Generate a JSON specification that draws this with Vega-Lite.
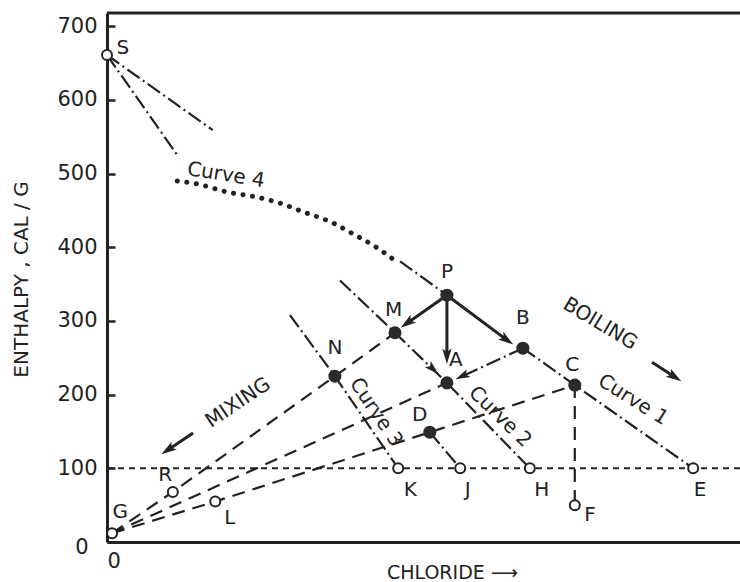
{
  "$schema": "https://vega.github.io/schema/vega-lite/v6.json",
  "autosize": {"type": "none"},
  "padding": {"left": 107, "top": 13, "right": 0, "bottom": 40},
  "width": 633,
  "height": 529,
  "background": "white",
  "config": {
    "view": {"stroke": null},
    "font": "DejaVu Sans",
    "text": {"font": "DejaVu Sans", "fontSize": 20, "color": "#222"}
  },
  "datasets": {
    "lines": [
      {"seg": "frame", "style": "frame", "ord": 0, "x": 0, "y": 718},
      {"seg": "frame", "style": "frame", "ord": 1, "x": 100, "y": 718},
      {"seg": "level", "style": "level", "ord": 0, "x": 0, "y": 100},
      {"seg": "level", "style": "level", "ord": 1, "x": 100, "y": 100},

      {"seg": "c1a", "style": "boil", "ord": 0, "x": 0, "y": 661},
      {"seg": "c1a", "style": "boil", "ord": 1, "x": 16.7, "y": 559},
      {"seg": "c1b", "style": "boil", "ord": 0, "x": 46.3, "y": 381},
      {"seg": "c1b", "style": "boil", "ord": 1, "x": 53.7, "y": 335},
      {"seg": "c1c", "style": "boil", "ord": 0, "x": 65.7, "y": 263},
      {"seg": "c1c", "style": "boil", "ord": 1, "x": 73.9, "y": 213},
      {"seg": "c1c", "style": "boil", "ord": 2, "x": 92.6, "y": 100},
      {"seg": "c2", "style": "boil", "ord": 0, "x": 36.8, "y": 355},
      {"seg": "c2", "style": "boil", "ord": 1, "x": 45.5, "y": 284},
      {"seg": "c2", "style": "boil", "ord": 2, "x": 53.7, "y": 216},
      {"seg": "c2", "style": "boil", "ord": 3, "x": 66.8, "y": 100},
      {"seg": "c3a", "style": "boil", "ord": 0, "x": 0, "y": 661},
      {"seg": "c3a", "style": "boil", "ord": 1, "x": 11.2, "y": 524},
      {"seg": "c3b", "style": "boil", "ord": 0, "x": 28.9, "y": 308},
      {"seg": "c3b", "style": "boil", "ord": 1, "x": 36.0, "y": 225},
      {"seg": "c3b", "style": "boil", "ord": 2, "x": 46.0, "y": 100},
      {"seg": "dj", "style": "boil", "ord": 0, "x": 51.0, "y": 149},
      {"seg": "dj", "style": "boil", "ord": 1, "x": 55.8, "y": 100},
      {"seg": "ba", "style": "boil", "ord": 0, "x": 65.7, "y": 263},
      {"seg": "ba", "style": "boil", "ord": 1, "x": 56.1, "y": 225},

      {"seg": "gm", "style": "mix", "ord": 0, "x": 0.8, "y": 12},
      {"seg": "gm", "style": "mix", "ord": 1, "x": 10.4, "y": 68},
      {"seg": "gm", "style": "mix", "ord": 2, "x": 36.0, "y": 225},
      {"seg": "gm", "style": "mix", "ord": 3, "x": 45.5, "y": 284},
      {"seg": "ga", "style": "mix", "ord": 0, "x": 0.8, "y": 12},
      {"seg": "ga", "style": "mix", "ord": 1, "x": 53.7, "y": 216},
      {"seg": "gc", "style": "mix", "ord": 0, "x": 0.8, "y": 12},
      {"seg": "gc", "style": "mix", "ord": 1, "x": 17.1, "y": 55},
      {"seg": "gc", "style": "mix", "ord": 2, "x": 51.0, "y": 149},
      {"seg": "gc", "style": "mix", "ord": 3, "x": 73.9, "y": 213},
      {"seg": "cf", "style": "mix", "ord": 0, "x": 73.9, "y": 213},
      {"seg": "cf", "style": "mix", "ord": 1, "x": 73.9, "y": 50},

      {"seg": "c4", "style": "dots", "ord": 0, "x": 11.1, "y": 490},
      {"seg": "c4", "style": "dots", "ord": 1, "x": 14.2, "y": 486},
      {"seg": "c4", "style": "dots", "ord": 2, "x": 19.0, "y": 475},
      {"seg": "c4", "style": "dots", "ord": 3, "x": 23.7, "y": 468},
      {"seg": "c4", "style": "dots", "ord": 4, "x": 27.3, "y": 460},
      {"seg": "c4", "style": "dots", "ord": 5, "x": 31.0, "y": 448},
      {"seg": "c4", "style": "dots", "ord": 6, "x": 35.7, "y": 433},
      {"seg": "c4", "style": "dots", "ord": 7, "x": 38.9, "y": 418},
      {"seg": "c4", "style": "dots", "ord": 8, "x": 42.0, "y": 403},
      {"seg": "c4", "style": "dots", "ord": 9, "x": 45.8, "y": 380},

      {"seg": "pm", "style": "arrow", "ord": 0, "x": 53.7, "y": 335},
      {"seg": "pm", "style": "arrow", "ord": 1, "x": 47.4, "y": 297},
      {"seg": "pa", "style": "arrow", "ord": 0, "x": 53.7, "y": 335},
      {"seg": "pa", "style": "arrow", "ord": 1, "x": 53.7, "y": 252},
      {"seg": "pb", "style": "arrow", "ord": 0, "x": 53.7, "y": 335},
      {"seg": "pb", "style": "arrow", "ord": 1, "x": 63.2, "y": 274},
      {"seg": "mixing", "style": "arrow", "ord": 0, "x": 13.6, "y": 148},
      {"seg": "mixing", "style": "arrow", "ord": 1, "x": 9.6, "y": 125},
      {"seg": "boiling", "style": "arrow", "ord": 0, "x": 86.1, "y": 244},
      {"seg": "boiling", "style": "arrow", "ord": 1, "x": 89.7, "y": 224}
    ],
    "heads": [
      {"name": "pm", "x": 47.4, "y": 297},
      {"name": "pa", "x": 53.7, "y": 252},
      {"name": "pb", "x": 63.2, "y": 274},
      {"name": "ba", "x": 56.1, "y": 225},
      {"name": "ma", "x": 51.5, "y": 234.7},
      {"name": "mixing", "x": 9.6, "y": 125},
      {"name": "boiling", "x": 89.7, "y": 224}
    ],
    "points": [
      {"name": "S", "kind": "open", "x": 0, "y": 661},
      {"name": "G", "kind": "open", "x": 0.8, "y": 12},
      {"name": "R", "kind": "open", "x": 10.4, "y": 68},
      {"name": "L", "kind": "open", "x": 17.1, "y": 55},
      {"name": "K", "kind": "open", "x": 46.0, "y": 100},
      {"name": "J", "kind": "open", "x": 55.8, "y": 100},
      {"name": "H", "kind": "open", "x": 66.8, "y": 100},
      {"name": "E", "kind": "open", "x": 92.6, "y": 100},
      {"name": "F", "kind": "open", "x": 73.9, "y": 50},
      {"name": "P", "kind": "state", "x": 53.7, "y": 335},
      {"name": "M", "kind": "state", "x": 45.5, "y": 284},
      {"name": "B", "kind": "state", "x": 65.7, "y": 263},
      {"name": "N", "kind": "state", "x": 36.0, "y": 225},
      {"name": "A", "kind": "state", "x": 53.7, "y": 216},
      {"name": "C", "kind": "state", "x": 73.9, "y": 213},
      {"name": "D", "kind": "state", "x": 51.0, "y": 149}
    ],
    "letters": [
      {"text": "S", "x": 2.5, "y": 671},
      {"text": "G", "x": 2.1, "y": 41},
      {"text": "R", "x": 9.2, "y": 91},
      {"text": "L", "x": 19.4, "y": 33},
      {"text": "K", "x": 47.9, "y": 71},
      {"text": "J", "x": 57.0, "y": 71},
      {"text": "H", "x": 68.7, "y": 71},
      {"text": "E", "x": 93.7, "y": 71},
      {"text": "F", "x": 76.3, "y": 37},
      {"text": "P", "x": 53.7, "y": 366},
      {"text": "M", "x": 45.3, "y": 315},
      {"text": "B", "x": 65.7, "y": 304},
      {"text": "N", "x": 36.0, "y": 263},
      {"text": "A", "x": 55.1, "y": 247},
      {"text": "C", "x": 73.5, "y": 240},
      {"text": "D", "x": 49.4, "y": 172}
    ],
    "notes": [
      {"text": "Curve 1", "x": 83.1, "y": 193},
      {"text": "Curve 2", "x": 62.1, "y": 170},
      {"text": "Curve 3", "x": 42.5, "y": 176},
      {"text": "Curve 4", "x": 18.8, "y": 498},
      {"text": "MIXING", "x": 20.7, "y": 189},
      {"text": "BOILING", "x": 77.9, "y": 296}
    ]
  },
  "encoding": {
    "x": {
      "field": "x",
      "type": "quantitative",
      "scale": {"domain": [0, 100], "nice": false, "zero": false},
      "axis": {
        "values": [0],
        "ticks": false,
        "grid": false,
        "domainWidth": 3,
        "domainColor": "#222",
        "labelFont": "DejaVu Sans",
        "labelFontSize": 21,
        "labelColor": "#222",
        "labelPadding": 8,
        "title": "CHLORIDE ⟶",
        "titleFont": "DejaVu Sans",
        "titleFontSize": 19,
        "titleFontWeight": "normal",
        "titleColor": "#222",
        "titleX": 345,
        "titleY": 21,
        "titleBaseline": "top"
      }
    },
    "y": {
      "field": "y",
      "type": "quantitative",
      "scale": {"domain": [0, 718], "nice": false, "zero": false},
      "axis": {
        "values": [0, 100, 200, 300, 400, 500, 600, 700],
        "grid": false,
        "domainWidth": 3,
        "domainColor": "#222",
        "tickSize": -8,
        "tickWidth": 2.5,
        "tickColor": "#222",
        "labelFont": "DejaVu Sans",
        "labelFontSize": 21,
        "labelColor": "#222",
        "labelPadding": {"condition": {"test": "datum.value === 0", "value": 27}, "value": 18},
        "labelOffset": {"condition": {"test": "datum.value === 0", "value": 5}, "value": 0},
        "title": "ENTHALPY  ,  CAL / G",
        "titleFont": "DejaVu Sans",
        "titleFontSize": 20,
        "titleFontWeight": "normal",
        "titleColor": "#222",
        "titleX": -86,
        "titleY": 266,
        "titleAlign": "center",
        "titleBaseline": "middle"
      }
    }
  },
  "layer": [
    {
      "data": {"name": "lines"},
      "transform": [{"filter": "datum.style === 'frame'"}],
      "mark": {"type": "line", "color": "#222", "strokeWidth": 3},
      "encoding": {"detail": {"field": "seg"}, "order": {"field": "ord"}}
    },
    {
      "data": {"name": "lines"},
      "transform": [{"filter": "datum.style === 'level'"}],
      "mark": {"type": "line", "color": "#222", "strokeWidth": 2, "strokeDash": [6, 5]},
      "encoding": {"detail": {"field": "seg"}, "order": {"field": "ord"}}
    },
    {
      "data": {"name": "lines"},
      "transform": [{"filter": "datum.style === 'boil'"}],
      "mark": {"type": "line", "color": "#222", "strokeWidth": 2.2, "strokeDash": [15, 4, 2, 4]},
      "encoding": {"detail": {"field": "seg"}, "order": {"field": "ord"}}
    },
    {
      "data": {"name": "lines"},
      "transform": [{"filter": "datum.style === 'mix'"}],
      "mark": {"type": "line", "color": "#222", "strokeWidth": 2.2, "strokeDash": [13, 8]},
      "encoding": {"detail": {"field": "seg"}, "order": {"field": "ord"}}
    },
    {
      "data": {"name": "lines"},
      "transform": [{"filter": "datum.style === 'dots'"}],
      "mark": {"type": "line", "color": "#222", "strokeWidth": 5, "strokeCap": "round", "strokeDash": [0.1, 9.5], "interpolate": "monotone"},
      "encoding": {"detail": {"field": "seg"}, "order": {"field": "ord"}}
    },
    {
      "data": {"name": "lines"},
      "transform": [{"filter": "datum.style === 'arrow'"}],
      "mark": {"type": "line", "color": "#222", "strokeWidth": 3},
      "encoding": {"detail": {"field": "seg"}, "order": {"field": "ord"}}
    },
    {
      "data": {"name": "heads"},
      "transform": [{"filter": "datum.name === 'pm'"}],
      "mark": {"type": "point", "shape": "M0,-1L0.6,1L0,0.55L-0.6,1Z", "filled": true, "color": "#222", "size": 240, "angle": 234, "opacity": 1}
    },
    {
      "data": {"name": "heads"},
      "transform": [{"filter": "datum.name === 'pa'"}],
      "mark": {"type": "point", "shape": "M0,-1L0.6,1L0,0.55L-0.6,1Z", "filled": true, "color": "#222", "size": 240, "angle": 180, "opacity": 1}
    },
    {
      "data": {"name": "heads"},
      "transform": [{"filter": "datum.name === 'pb'"}],
      "mark": {"type": "point", "shape": "M0,-1L0.6,1L0,0.55L-0.6,1Z", "filled": true, "color": "#222", "size": 240, "angle": 125, "opacity": 1}
    },
    {
      "data": {"name": "heads"},
      "transform": [{"filter": "datum.name === 'ba'"}],
      "mark": {"type": "point", "shape": "M0,-1L0.6,1L0,0.55L-0.6,1Z", "filled": true, "color": "#222", "size": 210, "angle": 245, "opacity": 1}
    },
    {
      "data": {"name": "heads"},
      "transform": [{"filter": "datum.name === 'ma'"}],
      "mark": {"type": "point", "shape": "M0,-1L0.6,1L0,0.55L-0.6,1Z", "filled": true, "color": "#222", "size": 210, "angle": 134, "opacity": 1}
    },
    {
      "data": {"name": "heads"},
      "transform": [{"filter": "datum.name === 'mixing'"}],
      "mark": {"type": "point", "shape": "M0,-1L0.6,1L0,0.55L-0.6,1Z", "filled": true, "color": "#222", "size": 240, "angle": 236, "opacity": 1}
    },
    {
      "data": {"name": "heads"},
      "transform": [{"filter": "datum.name === 'boiling'"}],
      "mark": {"type": "point", "shape": "M0,-1L0.6,1L0,0.55L-0.6,1Z", "filled": true, "color": "#222", "size": 240, "angle": 123, "opacity": 1}
    },
    {
      "data": {"name": "points"},
      "transform": [{"filter": "datum.kind === 'open'"}],
      "mark": {"type": "point", "shape": "circle", "filled": false, "fill": "white", "stroke": "#222", "strokeWidth": 2, "size": 100, "opacity": 1}
    },
    {
      "data": {"name": "points"},
      "transform": [{"filter": "datum.kind === 'state'"}],
      "mark": {"type": "point", "shape": "circle", "filled": true, "color": "#2a2a2a", "size": 170, "opacity": 1}
    },
    {
      "data": {"name": "letters"},
      "mark": {"type": "text", "align": "center", "baseline": "middle", "fontSize": 20, "color": "#222"},
      "encoding": {"text": {"field": "text"}}
    },
    {
      "data": {"name": "notes"},
      "transform": [{"filter": "datum.text === 'Curve 1'"}],
      "mark": {"type": "text", "align": "center", "baseline": "middle", "fontSize": 20, "color": "#222", "angle": 32},
      "encoding": {"text": {"field": "text"}}
    },
    {
      "data": {"name": "notes"},
      "transform": [{"filter": "datum.text === 'Curve 2'"}],
      "mark": {"type": "text", "align": "center", "baseline": "middle", "fontSize": 20, "color": "#222", "angle": 44},
      "encoding": {"text": {"field": "text"}}
    },
    {
      "data": {"name": "notes"},
      "transform": [{"filter": "datum.text === 'Curve 3'"}],
      "mark": {"type": "text", "align": "center", "baseline": "middle", "fontSize": 20, "color": "#222", "angle": 56},
      "encoding": {"text": {"field": "text"}}
    },
    {
      "data": {"name": "notes"},
      "transform": [{"filter": "datum.text === 'Curve 4'"}],
      "mark": {"type": "text", "align": "center", "baseline": "middle", "fontSize": 20, "color": "#222", "angle": 9},
      "encoding": {"text": {"field": "text"}}
    },
    {
      "data": {"name": "notes"},
      "transform": [{"filter": "datum.text === 'MIXING'"}],
      "mark": {"type": "text", "align": "center", "baseline": "middle", "fontSize": 20, "color": "#222", "angle": -34},
      "encoding": {"text": {"field": "text"}}
    },
    {
      "data": {"name": "notes"},
      "transform": [{"filter": "datum.text === 'BOILING'"}],
      "mark": {"type": "text", "align": "center", "baseline": "middle", "fontSize": 20, "color": "#222", "angle": 31},
      "encoding": {"text": {"field": "text"}}
    }
  ]
}
